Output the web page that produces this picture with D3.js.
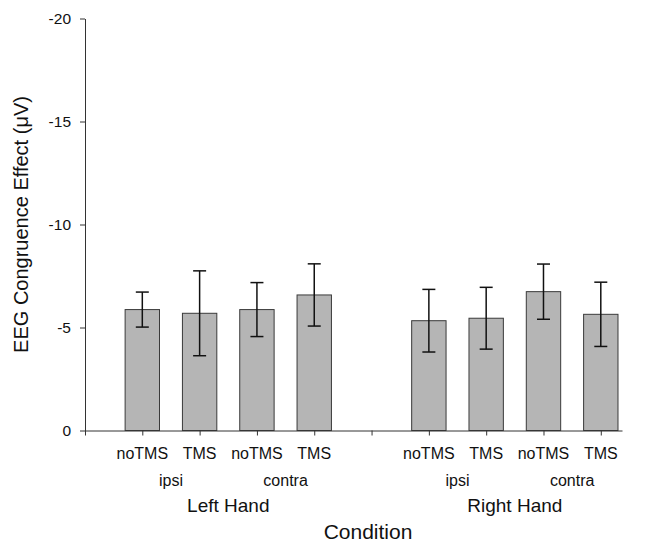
<!DOCTYPE html>
<html>
<head>
<meta charset="utf-8">
<script src="https://cdn.jsdelivr.net/npm/d3@7/dist/d3.min.js"></script>
<style>
  html, body { margin: 0; padding: 0; background: #fff; }
  svg { display: block; font-family: "Liberation Sans", Arial, sans-serif; }
</style>
</head>
<body>
<svg id="chart" width="650" height="544"></svg>
<script>
// data
var hands = ["Left Hand", "Right Hand"];
var sites = ["ipsi", "contra", "ipsi", "contra"];
var conditions = ["noTMS", "TMS", "noTMS", "TMS", "noTMS", "TMS", "noTMS", "TMS"];
var slots = [1, 2, 3, 4, 6, 7, 8, 9];          // category slot on the x axis (5 is the gap)
var means = [-5.87, -5.69, -5.87, -6.58, -5.33, -5.45, -6.74, -5.64];
var errors = [0.85, 2.06, 1.31, 1.51, 1.52, 1.50, 1.34, 1.56];
var yTicks = [0, -5, -10, -15, -20];

var svg = d3.select("#chart");

var original = { x: 85, y: 430.5 };
var x = d3.scaleLinear().domain([0, 9.37]).range([original.x, 622]);
var y = d3.scaleLinear().domain([0, -20]).range([original.y, 18.5]);
var barWidth = x(0.6) - x(0);
var capHalf = 6.5;

var g = svg.append("g");

// bars
g.selectAll("rect.bar").data(means).enter().append("rect")
    .attr("class", "bar")
    .attr("x", function (d, i) { return x(slots[i]) - barWidth / 2; })
    .attr("y", function (d) { return y(d); })
    .attr("width", barWidth)
    .attr("height", function (d) { return y(0) - y(d); })
    .attr("fill", "#b5b5b5")
    .attr("stroke", "#3a3a3a")
    .attr("stroke-width", 1);

// error bars
var err = g.selectAll("g.err").data(means).enter().append("g").attr("class", "err");
err.append("line")
    .attr("x1", function (d, i) { return x(slots[i]); })
    .attr("x2", function (d, i) { return x(slots[i]); })
    .attr("y1", function (d, i) { return y(d - errors[i]); })
    .attr("y2", function (d, i) { return y(d + errors[i]); })
    .attr("stroke", "#111").attr("stroke-width", 1.5);
[-1, 1].forEach(function (s) {
    err.append("line")
        .attr("x1", function (d, i) { return x(slots[i]) - capHalf; })
        .attr("x2", function (d, i) { return x(slots[i]) + capHalf; })
        .attr("y1", function (d, i) { return y(d + s * errors[i]); })
        .attr("y2", function (d, i) { return y(d + s * errors[i]); })
        .attr("stroke", "#111").attr("stroke-width", 1.5);
});

// y axis
var yAxis = svg.append("g")
    .attr("transform", "translate(" + original.x + ",0)")
    .call(d3.axisLeft(y).tickValues(yTicks).tickSize(5).tickPadding(9).tickSizeOuter(0)
        .tickFormat(function (d) { return d === 0 ? "0" : String(d).replace("\u2212", "-"); }));
yAxis.select(".domain").attr("stroke", "#333");
yAxis.selectAll(".tick line").attr("stroke", "#333");
yAxis.selectAll("text").attr("font-size", "15.5px").attr("fill", "#111")
    .attr("font-family", "Liberation Sans, Arial, sans-serif");

// x axis (slot ticks, no labels from the axis itself)
var xAxis = svg.append("g")
    .attr("transform", "translate(0," + original.y + ")")
    .call(d3.axisBottom(x).tickValues(d3.range(0, 10)).tickSize(5).tickSizeOuter(0).tickFormat(""));
xAxis.select(".domain").attr("stroke", "#333");
xAxis.selectAll(".tick line").attr("stroke", "#333");

// category labels
svg.selectAll("text.cond").data(conditions).enter().append("text")
    .attr("class", "cond")
    .attr("x", function (d, i) { return x(slots[i]); })
    .attr("y", 459)
    .attr("text-anchor", "middle")
    .attr("font-size", "16px")
    .attr("fill", "#111")
    .text(function (d) { return d; });

svg.selectAll("text.site").data(sites).enter().append("text")
    .attr("class", "site")
    .attr("x", function (d, i) { return x((slots[i * 2] + slots[i * 2 + 1]) / 2); })
    .attr("y", 486)
    .attr("text-anchor", "middle")
    .attr("font-size", "16px")
    .attr("fill", "#111")
    .text(function (d) { return d; });

svg.selectAll("text.hand").data(hands).enter().append("text")
    .attr("class", "hand")
    .attr("x", function (d, i) { return x((slots[i * 4] + slots[i * 4 + 3]) / 2); })
    .attr("y", 512)
    .attr("text-anchor", "middle")
    .attr("font-size", "19px")
    .attr("fill", "#111")
    .text(function (d) { return d; });

// axis titles
svg.append("text")
    .attr("x", 368).attr("y", 539)
    .attr("text-anchor", "middle")
    .attr("font-size", "21px")
    .attr("fill", "#111")
    .text("Condition");

svg.append("text")
    .attr("transform", "translate(27.5," + ((y(0) + y(-20)) / 2) + ") rotate(-90)")
    .attr("text-anchor", "middle")
    .attr("font-size", "20px")
    .attr("fill", "#111")
    .text("EEG Congruence Effect (\u03bcV)");
</script>
</body>
</html>
